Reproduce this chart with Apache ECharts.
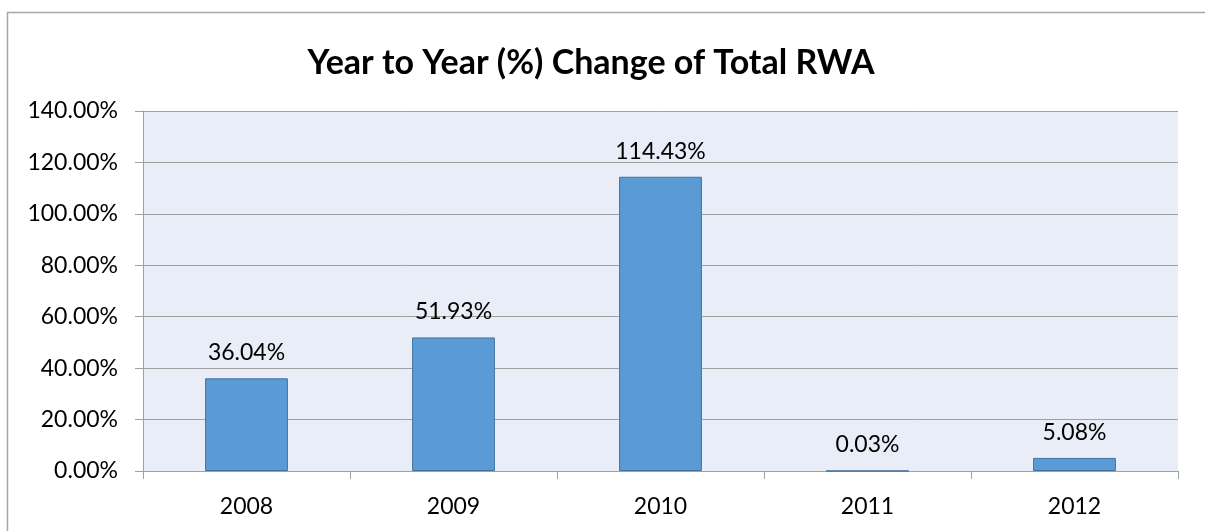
<!DOCTYPE html>
<html>
<head>
<meta charset="utf-8">
<script src="https://cdn.jsdelivr.net/npm/echarts@6/dist/echarts.min.js"></script>
<style>
  html, body { margin: 0; padding: 0; background: #fff; }
  #chart { width: 1205px; height: 531px; }
</style>
</head>
<body>
<div id="chart"></div>
<script>
// data
var years = ["2008", "2009", "2010", "2011", "2012"];
var changePct = [36.04, 51.93, 114.43, 0.03, 5.08];

var chart = echarts.init(document.getElementById("chart"));
var option = {
  animation: false,
  textStyle: { fontFamily: "Lato" },
  title: {
    text: "Year to Year (%) Change of Total RWA",
    left: 586,
    textAlign: "center",
    top: 41,
    textStyle: { fontFamily: "Lato", fontWeight: "bold", fontSize: 34, color: "#000" }
  },
  graphic: [{
    type: "rect",
    shape: { x: 7.5, y: 12.5, width: 1300, height: 700 },
    style: { fill: "none", stroke: "#A6A6A6", lineWidth: 1.5 },
    silent: true
  }],
  grid: {
    left: 143, right: 27, top: 111, bottom: 60,
    show: true, backgroundColor: "#E9EDF7", borderWidth: 0
  },
  xAxis: {
    type: "category",
    data: years,
    axisLine: { lineStyle: { color: "#A0A0A0", width: 1 } },
    axisTick: { show: true, length: 8, lineStyle: { color: "#A0A0A0" } },
    axisLabel: { color: "#000", fontSize: 23, margin: 24, fontFamily: "Lato" }
  },
  yAxis: {
    type: "value",
    min: 0, max: 140, interval: 20,
    axisLine: { show: true, lineStyle: { color: "#A0A0A0", width: 1 } },
    axisTick: { show: true, length: 8, lineStyle: { color: "#A0A0A0" } },
    splitLine: { lineStyle: { color: "#A0A0A0", width: 1 } },
    axisLabel: {
      color: "#000", fontSize: 23, margin: 25, fontFamily: "Lato",
      formatter: function (v) { return v.toFixed(2) + "%"; }
    }
  },
  series: [{
    type: "bar",
    data: changePct,
    barWidth: "40%",
    itemStyle: { color: "#5B9BD5", borderColor: "#41719C", borderWidth: 1 },
    label: {
      show: true, position: "top", distance: 14,
      color: "#000", fontSize: 23, fontFamily: "Lato",
      formatter: function (p) { return p.value.toFixed(2) + "%"; }
    }
  }]
};
chart.setOption(option);
</script>
</body>
</html>
